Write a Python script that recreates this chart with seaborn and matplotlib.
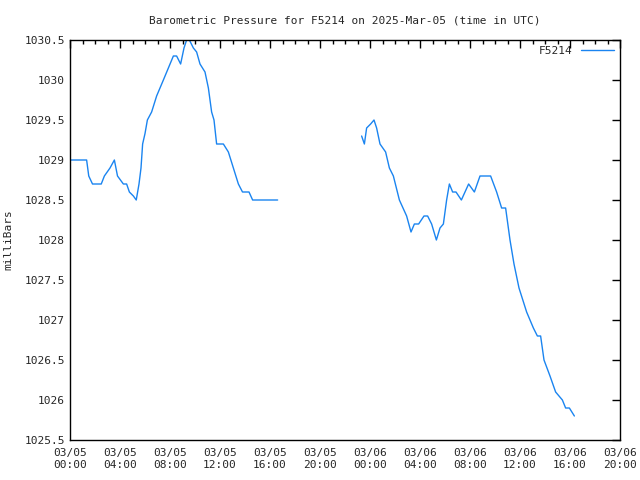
import matplotlib
matplotlib.use("Agg")
import matplotlib.pyplot as plt
import seaborn as sns
import pandas as pd
import numpy as np
from matplotlib.ticker import MultipleLocator, FuncFormatter

# Hours since 2025-03-05 00:00 UTC
hours_a = [0.0, 1.33, 1.5, 1.8, 2.5, 2.75, 3.2, 3.55, 3.8, 4.27, 4.53, 4.75, 5.07, 5.3,
           5.52, 5.68, 5.81, 6.0, 6.19, 6.53, 6.93, 7.47, 7.87, 8.27, 8.53, 8.85, 9.12,
           9.33, 9.55, 9.87, 10.13, 10.4, 10.8, 11.07, 11.33, 11.52, 11.73, 12.27, 12.67,
           13.07, 13.47, 13.8, 14.32, 14.61, 16.61]
press_a = [1029.0, 1029.0, 1028.8, 1028.7, 1028.7, 1028.8, 1028.9, 1029.0, 1028.8, 1028.7,
           1028.7, 1028.6, 1028.55, 1028.5, 1028.7, 1028.9, 1029.2, 1029.33, 1029.5, 1029.6,
           1029.8, 1030.0, 1030.15, 1030.3, 1030.3, 1030.2, 1030.4, 1030.5, 1030.5, 1030.4,
           1030.35, 1030.2, 1030.1, 1029.9, 1029.6, 1029.5, 1029.2, 1029.2, 1029.1, 1028.9,
           1028.7, 1028.6, 1028.6, 1028.5, 1028.5]

hours_b = [23.33, 23.55, 23.73, 24.05, 24.32, 24.53, 24.8, 25.25, 25.55, 25.87, 26.35, 26.93,
           27.28, 27.55, 27.89, 28.32, 28.61, 28.93, 29.31, 29.6, 29.87, 30.13, 30.35, 30.61,
           30.88, 31.31, 31.6, 31.89, 32.35, 32.8, 33.65, 34.13, 34.53, 34.85, 35.2, 35.52,
           35.92, 36.53, 37.07, 37.39, 37.65, 37.92, 38.4, 38.85, 39.39, 39.65, 39.95, 40.35]
press_b = [1029.3, 1029.2, 1029.4, 1029.45, 1029.5, 1029.4, 1029.2, 1029.1, 1028.9, 1028.8,
           1028.5, 1028.3, 1028.1, 1028.2, 1028.2, 1028.3, 1028.3, 1028.2, 1028.0, 1028.15,
           1028.2, 1028.5, 1028.7, 1028.6, 1028.6, 1028.5, 1028.6, 1028.7, 1028.6, 1028.8,
           1028.8, 1028.6, 1028.4, 1028.4, 1028.0, 1027.7, 1027.4, 1027.1, 1026.9, 1026.8,
           1026.8, 1026.5, 1026.3, 1026.1, 1026.0, 1025.9, 1025.9, 1025.8]

x_tick_labels = ["03/05\n00:00", "03/05\n04:00", "03/05\n08:00", "03/05\n12:00",
                 "03/05\n16:00", "03/05\n20:00", "03/06\n00:00", "03/06\n04:00",
                 "03/06\n08:00", "03/06\n12:00", "03/06\n16:00", "03/06\n20:00"]
series_name = "F5214"
title = "Barometric Pressure for F5214 on 2025-Mar-05 (time in UTC)"

sns.set_style("white")
plt.rcParams['font.family'] = ['DejaVu Sans Mono']
plt.rcParams['font.size'] = 8

df_a = pd.DataFrame({"hours": hours_a, "mbar": press_a})
df_b = pd.DataFrame({"hours": hours_b, "mbar": press_b})

fig = plt.figure(figsize=(6.4, 4.8), dpi=100)
ax = fig.add_axes([70/640, 40/480, 550/640, 400/480])
color = "#1a84f0"
sns.lineplot(data=df_a, x="hours", y="mbar", ax=ax, color=color, linewidth=1, label=series_name)
sns.lineplot(data=df_b, x="hours", y="mbar", ax=ax, color=color, linewidth=1)

ax.set_xlim(0, 44)
ax.set_ylim(1025.5, 1030.5)
ax.set_xticks(np.arange(0, 45, 4))
ax.set_xticklabels(x_tick_labels)
ax.xaxis.set_minor_locator(MultipleLocator(1))
ax.yaxis.set_major_locator(MultipleLocator(0.5))
ax.yaxis.set_major_formatter(FuncFormatter(lambda v, p: f"{v:g}"))
ax.tick_params(axis="both", which="both", direction="in", top=True, right=True,
               labelsize=8, color="black")
ax.tick_params(axis="both", which="major", length=6, width=1)
ax.tick_params(axis="x", which="minor", length=3, width=1)
ax.tick_params(axis="x", which="major", pad=6)
for s in ax.spines.values():
    s.set_color("black")
    s.set_linewidth(1)
ax.set_xlabel("")
ax.set_ylabel("milliBars", fontsize=8, labelpad=8)
ax.set_title(title, fontsize=8, pad=12)
leg = ax.legend(loc="upper right", frameon=False, fontsize=8, handlelength=3,
                markerfirst=False, borderaxespad=0.1)
fig.savefig("out.png", dpi=100)
